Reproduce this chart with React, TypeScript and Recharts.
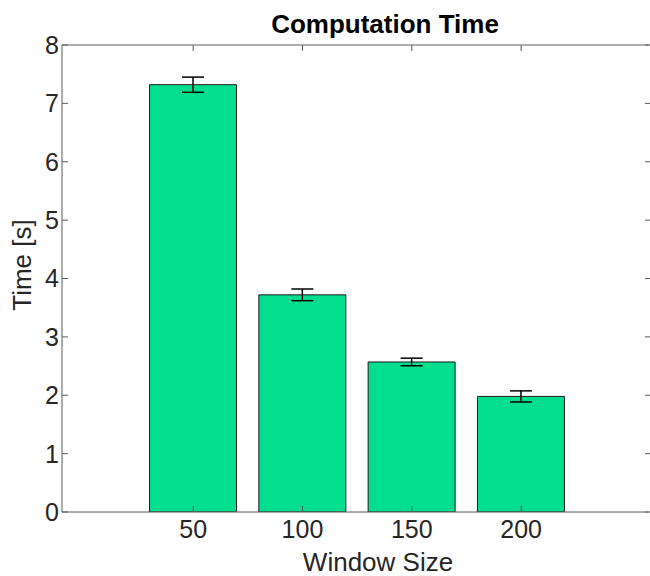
import React from 'react';
import { ComposedChart, Bar, Line, XAxis, YAxis, ErrorBar, Label } from 'recharts';

const windowSizes = [50, 100, 150, 200];
const meanTimes = [7.32, 3.72, 2.57, 1.98];
const errTimes = [0.13, 0.1, 0.065, 0.095];
const yTicks = [0, 1, 2, 3, 4, 5, 6, 7, 8];

const data = windowSizes.map((w, i) => ({ w, t: meanTimes[i], e: errTimes[i] }));

const FONT = '"Liberation Sans", Arial, Helvetica, sans-serif';
const AXIS = '#5a5a5a';
const TXT = '#262626';

const BottomTick = (p: any) => (
  <g>
    <line x1={p.x} y1={p.y} x2={p.x} y2={p.y - 6} stroke={AXIS} strokeWidth={1} />
    <text x={p.x} y={p.y + 26} textAnchor="middle" fontSize={25} fontFamily={FONT} fill={TXT}>
      {p.payload.value}
    </text>
  </g>
);

const TopTick = (p: any) => (
  <line x1={p.x} y1={p.y} x2={p.x} y2={p.y + 6} stroke={AXIS} strokeWidth={1} />
);

const LeftTick = (p: any) => (
  <g>
    <line x1={p.x} y1={p.y} x2={p.x + 6} y2={p.y} stroke={AXIS} strokeWidth={1} />
    <text x={p.x - 3} y={p.y} dy="0.355em" textAnchor="end" fontSize={25} fontFamily={FONT} fill={TXT}>
      {p.payload.value}
    </text>
  </g>
);

const RightTick = (p: any) => (
  <line x1={p.x + 1} y1={p.y} x2={p.x - 4} y2={p.y} stroke={AXIS} strokeWidth={1} />
);

const TitleContent = () => (
  <text x={385} y={33} textAnchor="middle" fontSize={26} fontWeight="bold" fontFamily={FONT} fill="#000">
    Computation Time
  </text>
);

const XLabelContent = () => (
  <text x={378} y={571} textAnchor="middle" fontSize={26} fontFamily={FONT} fill={TXT}>
    Window Size
  </text>
);

const YLabelContent = () => (
  <text x={31} y={265} transform="rotate(-90 31 265)" textAnchor="middle" fontSize={26} fontFamily={FONT} fill={TXT}>
    Time [s]
  </text>
);

export default function App() {
  return (
    <div>
      <style>{`body{margin:0;}`}</style>
      <ComposedChart
        width={650}
        height={576}
        data={data}
        margin={{ top: 44, right: 0, bottom: 0, left: 0 }}
      >
        <XAxis
          dataKey="w"
          type="number"
          domain={[-10, 258.5]}
          ticks={windowSizes}
          allowDataOverflow
          height={64}
          tickSize={0}
          tickMargin={0}
          tickLine={false}
          axisLine={{ stroke: AXIS, strokeWidth: 1 }}
          tick={<BottomTick />}
          interval={0}
          label={<Label content={<XLabelContent />} />}
        />
        <XAxis
          xAxisId="top"
          dataKey="w"
          type="number"
          orientation="top"
          domain={[-10, 258.5]}
          ticks={windowSizes}
          allowDataOverflow
          height={1}
          tickSize={0}
          tickMargin={0}
          tickLine={false}
          axisLine={{ stroke: AXIS, strokeWidth: 1 }}
          tick={<TopTick />}
          interval={0}
          label={<Label content={<TitleContent />} />}
        />
        <YAxis
          type="number"
          domain={[0, 8]}
          ticks={yTicks}
          allowDataOverflow
          width={62}
          tickSize={0}
          tickMargin={0}
          tickLine={false}
          axisLine={{ stroke: AXIS, strokeWidth: 1 }}
          tick={<LeftTick />}
          interval={0}
          label={<Label content={<YLabelContent />} />}
        />
        <YAxis
          yAxisId="right"
          orientation="right"
          type="number"
          domain={[0, 8]}
          ticks={yTicks}
          allowDataOverflow
          width={1}
          tickSize={0}
          tickMargin={0}
          tickLine={false}
          axisLine={false}
          tick={<RightTick />}
          interval={0}
        />
        <Bar dataKey="t" fill="#00DE8E" stroke="#1a1a1a" strokeWidth={1} barSize={87} isAnimationActive={false}>
          <ErrorBar dataKey="e" width={11} stroke="#000" strokeWidth={1.5} direction="y" />
        </Bar>
        <Line
          xAxisId="top"
          yAxisId="right"
          dataKey="t"
          stroke="none"
          strokeWidth={0}
          dot={false}
          activeDot={false}
          legendType="none"
          isAnimationActive={false}
        />
      </ComposedChart>
    </div>
  );
}
